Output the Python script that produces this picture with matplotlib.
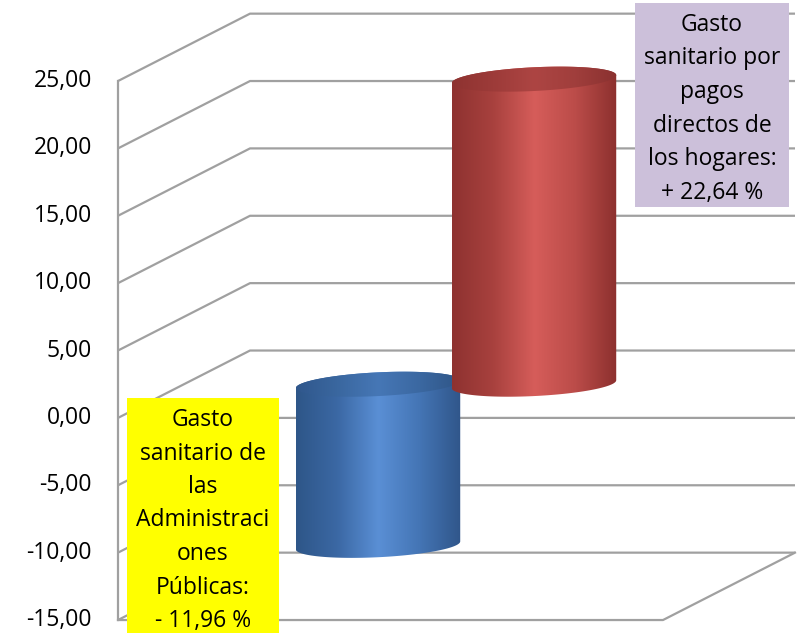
import numpy as np
import matplotlib.pyplot as plt
from matplotlib.patches import Polygon, Rectangle
from matplotlib.colors import to_rgb

plt.rcParams['font.family'] = ['Open Sans', 'DejaVu Sans']

categories = ['Administraciones Públicas', 'Pagos directos de los hogares']
values = [-11.96, 22.64]
label_lines = [
    ['Gasto', 'sanitario de', 'las', 'Administraci', 'ones', 'Públicas:'],
    ['Gasto', 'sanitario por', 'pagos', 'directos de', 'los hogares:'],
]
box_colors = ['#ffff00', '#ccc0da']
y_ticks = [-15, -10, -5, 0, 5, 10, 15, 20, 25]

# colour stops across each cylinder (left edge -> right edge)
body_stops = [
    ['#2e5688', '#3b68a4', '#5a8fd5', '#4475b5', '#30568a'],
    ['#8e3230', '#a8413e', '#d65d5a', '#bb4c49', '#8c302e'],
]
top_stops = [
    ['#30578c', '#3a679f', '#4677b6', '#3b68a1', '#2f5586'],
    ['#8e3331', '#9d3b39', '#ad4543', '#a03e3c', '#8a3130'],
]

# layout (x in pixels, y in data units)
PX = 13.475          # pixels per unit on the value axis
Y0 = 417.9           # pixel row of value 0
DX, DY = 132, 5.0    # depth offset of back wall
LEFT, FRONT_RIGHT, RIGHT = 118, 663, 795
FIRST_BAR, BAR_STEP = 312, 156
A, S, B = 78.0, 26.0, 12.5   # ellipse shape in pixels


def yv(pix):
    return (Y0 - pix) / PX


fig = plt.figure(figsize=(8, 6.33), dpi=100)
ax = fig.add_axes([0, 0, 1, 1])
ax.axis('off')

grid_c = '#a0a0a0'
lw = 1.6
ymin, ymax = y_ticks[0], y_ticks[-1]

# back wall + side wall gridlines
for v in y_ticks:
    ax.plot([LEFT, LEFT + DX, RIGHT], [v, v + DY, v + DY], color=grid_c, lw=lw,
            solid_capstyle='butt', zorder=1)
    ax.text(LEFT - 26, v, f'{v:.2f}'.replace('.', ','), ha='right', va='center',
            fontsize=16.5, color='black')
ax.plot([LEFT, LEFT], [ymin, ymax], color=grid_c, lw=lw, zorder=1)
# floor
ax.plot([LEFT, FRONT_RIGHT, RIGHT], [ymin, ymin, ymin + DY], color=grid_c, lw=lw, zorder=1)


def gradient(stops, n=256):
    cols = np.array([to_rgb(c) for c in stops])
    pos = np.linspace(0, 1, len(stops))
    xs = np.linspace(0, 1, n)
    return np.stack([np.interp(xs, pos, cols[:, k]) for k in range(3)], axis=-1)[None, :, :]


def ellipse_pts(cx, v, t):
    return np.column_stack([cx + A * np.cos(t) + S * np.sin(t),
                            v + B * np.sin(t) / PX])


t0 = np.arctan2(S, A)
half_w = np.hypot(A, S)

for i, val in enumerate(values):
    cx = FIRST_BAR + i * BAR_STEP + DX / 2
    lo, hi = min(0, val) + DY / 2, max(0, val) + DY / 2
    z = 3 + i
    front = ellipse_pts(cx, lo, np.linspace(t0 + np.pi, t0 + 2 * np.pi, 80))
    back = ellipse_pts(cx, hi, np.linspace(t0, t0 + np.pi, 80))
    body = Polygon(np.vstack([front, back]), closed=True, fill=False, lw=0, zorder=z)
    ax.add_patch(body)
    im = ax.imshow(gradient(body_stops[i]), extent=(cx - half_w, cx + half_w, lo - 2, hi + 2),
                   aspect='auto', zorder=z, interpolation='bilinear')
    im.set_clip_path(body)

    top = Polygon(ellipse_pts(cx, hi, np.linspace(0, 2 * np.pi, 160)), closed=True,
                  fill=False, lw=0, zorder=z + 0.1)
    ax.add_patch(top)
    im2 = ax.imshow(gradient(top_stops[i]), extent=(cx - half_w, cx + half_w, hi - 2, hi + 2),
                    aspect='auto', zorder=z + 0.1, interpolation='bilinear')
    im2.set_clip_path(top)

# data label boxes
sign = ['- ', '+ ']
boxes = [(127, 398, 279, 633, 420), (635, 3, 789, 207, 25)]
for i, val in enumerate(values):
    x0, p0, x1, p1, first = boxes[i]
    ax.add_patch(Rectangle((x0, yv(p1)), x1 - x0, yv(p0) - yv(p1), facecolor=box_colors[i],
                           edgecolor='none', zorder=10))
    lines = label_lines[i] + [sign[int(val > 0)] + f'{abs(val):.2f}'.replace('.', ',') + ' %']
    for k, line in enumerate(lines):
        ax.text((x0 + x1) / 2, yv(first + k * 33.5), line, ha='center', va='center',
                fontsize=16.5, color='black', zorder=11)

ax.set_xlim(0, 800)
ax.set_ylim(yv(633), yv(0))
fig.savefig('out.png', dpi=100)
